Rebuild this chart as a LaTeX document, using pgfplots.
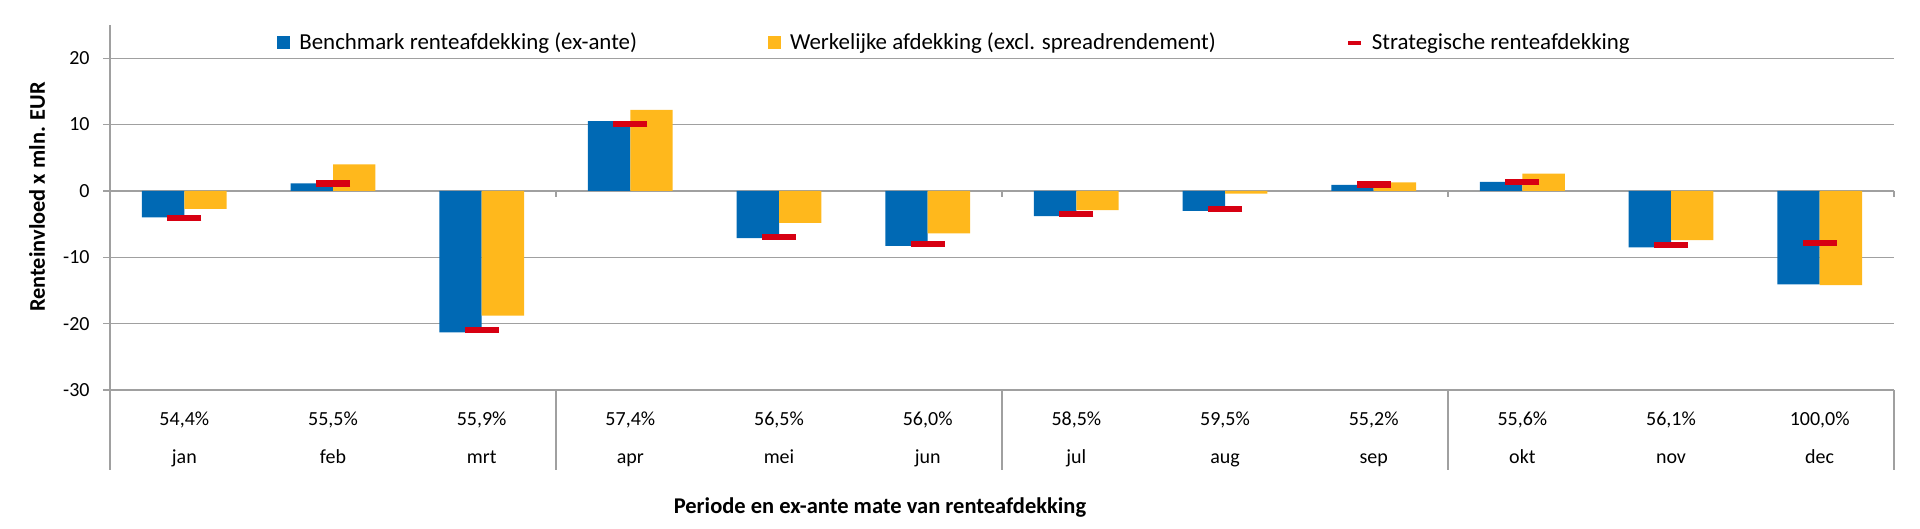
\documentclass[border=0pt]{standalone}
\usepackage{fontspec}
\setmainfont{Carlito}
\usepackage{pgfplots}
\pgfplotsset{compat=1.18}
\definecolor{cblue}{RGB}{0,105,180}
\definecolor{corange}{RGB}{255,184,28}
\definecolor{cred}{RGB}{215,0,18}
\definecolor{cgrid}{RGB}{160,160,160}
\begin{document}
\begin{tikzpicture}
\useasboundingbox (0,0) rectangle (960pt,264.5pt);
\begin{axis}[
  at={(55pt,69.5pt)}, anchor=south west,
  scale only axis, width=892pt, height=182.5pt,
  xmin=-0.5, xmax=11.5, ymin=-30, ymax=25,
  clip=false,
  axis lines*=left, axis line style={draw=none},
  ytick={-30,-20,-10,0,10,20},
  ymajorgrids, grid style={cgrid, line width=0.6pt},
  ytick style={cgrid, line width=0.6pt},
  tick align=outside, major tick length=3.5pt,
  yticklabel style={font=\fontsize{10}{12}\selectfont, inner sep=0pt, xshift=-6.5pt},
  /pgf/number format/assume math mode=true,
  xtick={0,...,11},
  xticklabels={{54,4\%\\jan},{55,5\%\\feb},{55,9\%\\mrt},{57,4\%\\apr},{56,5\%\\mei},{56,0\%\\jun},{58,5\%\\jul},{59,5\%\\aug},{55,2\%\\sep},{55,6\%\\okt},{56,1\%\\nov},{100,0\%\\dec}},
  xtick style={draw=none},
  xticklabel style={align=center, font=\fontsize{10}{19}\selectfont, inner sep=0pt, anchor=north, yshift=-7pt},
  legend columns=3,
  legend style={at={(0.0936,0.9507)}, anchor=west, draw=none, fill=none,
    font=\fontsize{11.45}{13}\selectfont, inner sep=0pt,
    /tikz/every odd column/.append style={column sep=2.5pt},
    /tikz/every even column/.append style={column sep=63.5pt}},
]
\addplot[ybar, bar width=21.2pt, bar shift=-10.6pt, fill=cblue, draw=none,
  legend image code/.code={\fill[cblue] (0pt,-3.25pt) rectangle (6.5pt,3.25pt);}]
  coordinates {(0,-4.0) (1,1.15) (2,-21.3) (3,10.5) (4,-7.1) (5,-8.3) (6,-3.8) (7,-3.0) (8,0.9) (9,1.35) (10,-8.5) (11,-14.1)};
\addlegendentry{Benchmark renteafdekking (ex-ante)}
\addplot[ybar, bar width=21.2pt, bar shift=10.6pt, fill=corange, draw=none,
  legend image code/.code={\fill[corange] (0pt,-3.25pt) rectangle (6.5pt,3.25pt);}]
  coordinates {(0,-2.7) (1,4.0) (2,-18.8) (3,12.2) (4,-4.8) (5,-6.4) (6,-2.9) (7,-0.4) (8,1.3) (9,2.6) (10,-7.4) (11,-14.2)};
\addlegendentry{Werkelijke afdekking (excl. spreadrendement)}
\addplot[only marks, mark=-, mark size=8.5pt, mark options={draw=cred, line width=3.15pt},
  legend image code/.code={\draw[cred, line width=1.6pt] (0pt,0pt) -- (6.5pt,0pt);}]
  coordinates {(0,-4.1) (1,1.1) (2,-21.0) (3,10.1) (4,-6.9) (5,-8.0) (6,-3.5) (7,-2.7) (8,0.95) (9,1.35) (10,-8.2) (11,-7.8)};
\addlegendentry{Strategische renteafdekking}
\draw[cgrid, line width=0.6pt] (axis cs:-0.5,25) -- (axis cs:-0.5,-42);
\pgfplotsinvokeforeach{2.5,5.5,8.5,11.5}{
  \draw[cgrid, line width=0.6pt] (axis cs:#1,-30) -- (axis cs:#1,-42);
  \draw[cgrid, line width=0.6pt] (axis cs:#1,0) -- ++(0pt,-3pt);
}
\end{axis}
\node[rotate=90, font=\bfseries\fontsize{11.2}{13}\selectfont] at (18.5pt,166pt) {Renteinvloed x mln. EUR};
\node[font=\bfseries\fontsize{11.25}{13}\selectfont] at (440pt,10.5pt) {Periode en ex-ante mate van renteafdekking};
\end{tikzpicture}
\end{document}
